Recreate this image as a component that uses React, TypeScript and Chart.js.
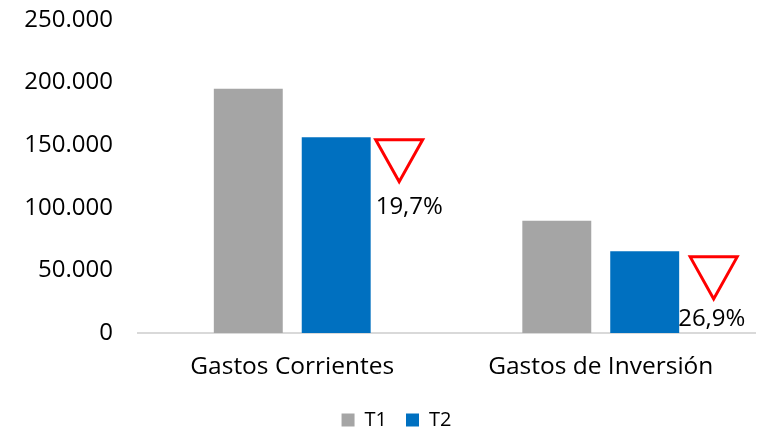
import React, { useEffect, useRef } from "react";
import { Chart, registerables } from "chart.js";

Chart.register(...registerables);

const categories = ["Gastos Corrientes", "Gastos de Inversión"];
const seriesNames = ["T1", "T2"];
const t1Values = [195000, 89700];
const t2Values = [156400, 65200];
const changeLabels = ["19,7%", "26,9%"];
const yTicks = [0, 50000, 100000, 150000, 200000, 250000];

const COLORS = { t1: "#A5A5A5", t2: "#0070C0", red: "#FF0000", axis: "#D9D9D9", text: "#000000" };
const FONT = "'Open Sans', 'DejaVu Sans', sans-serif";
// annotation placement relative to each T2 bar (layout, not data)
const ANNOT_LAYOUT = [
  { dx: 5, dy: 2.5, tx: 5, ty: 70 },
  { dx: 11, dy: 5.5, tx: -1, ty: 68 },
];
const TRI_W = 47;
const TRI_H = 42;
const LEGEND_SHIFT = 19;

function fmt(v: number): string {
  return String(Math.round(v)).replace(/\B(?=(\d{3})+(?!\d))/g, ".");
}

const annotPlugin = {
  id: "annot",
  afterLayout(chart: any) {
    if (chart.legend) {
      chart.legend.left += LEGEND_SHIFT;
      chart.legend.right += LEGEND_SHIFT;
    }
  },
  afterDatasetsDraw(chart: any) {
    const meta = chart.getDatasetMeta(1);
    const ctx = chart.ctx;
    ctx.save();
    meta.data.forEach((bar: any, i: number) => {
      const p = bar.getProps(["x", "y", "width"], true);
      const right = p.x + p.width / 2;
      const L = ANNOT_LAYOUT[i];
      const left = right + L.dx;
      const top = p.y + L.dy;
      ctx.beginPath();
      ctx.moveTo(left, top);
      ctx.lineTo(left + TRI_W, top);
      ctx.lineTo(left + TRI_W / 2, top + TRI_H);
      ctx.closePath();
      ctx.lineWidth = 3;
      ctx.lineJoin = "miter";
      ctx.strokeStyle = COLORS.red;
      ctx.stroke();
      ctx.fillStyle = COLORS.text;
      ctx.font = `24px ${FONT}`;
      ctx.textAlign = "left";
      ctx.textBaseline = "middle";
      ctx.fillText(changeLabels[i], right + L.tx, p.y + L.ty);
    });
    ctx.restore();
  },
};

export default function App() {
  const ref = useRef<HTMLCanvasElement | null>(null);
  useEffect(() => {
    document.body.style.margin = "0";
    if (!ref.current) return;
    const chart = new Chart(ref.current, {
      type: "bar",
      data: {
        labels: categories,
        datasets: [
          { label: seriesNames[0], data: t1Values, backgroundColor: COLORS.t1 },
          { label: seriesNames[1], data: t2Values, backgroundColor: COLORS.t2 },
        ],
      },
      options: {
        responsive: false,
        animation: false,
        datasets: { bar: { barPercentage: 0.784, categoryPercentage: 0.57 } },
        layout: { padding: { top: 20, right: 5, left: 0, bottom: -9 } },
        plugins: {
          tooltip: { enabled: false },
          legend: {
            position: "bottom",
            labels: {
              boxWidth: 13,
              boxHeight: 13,
              padding: 19,
              color: COLORS.text,
              font: { family: FONT, size: 20 },
            },
          },
        },
        scales: {
          x: {
            grid: { display: false, drawTicks: false },
            border: { display: true, color: COLORS.axis, width: 2 },
            ticks: { color: COLORS.text, padding: 19, font: { family: FONT, size: 24.5 } },
            afterFit: (s: any) => { s.height = 58; },
          },
          y: {
            min: 0,
            max: 250000,
            grid: { display: false, drawTicks: false },
            border: { display: false },
            afterBuildTicks: (s: any) => { s.ticks = yTicks.map((v) => ({ value: v })); },
            afterFit: (s: any) => { s.width = 138; s.paddingTop = 0; s.paddingBottom = 0; },
            ticks: {
              color: COLORS.text,
              padding: 25,
              font: { family: FONT, size: 24 },
              callback: (v: any) => fmt(Number(v)),
            },
          },
        },
      },
      plugins: [annotPlugin],
    });
    return () => chart.destroy();
  }, []);
  return (
    <div style={{ position: "absolute", left: 0, top: 0, width: 760, height: 431 }}>
      <canvas ref={ref} width={760} height={431} />
    </div>
  );
}
